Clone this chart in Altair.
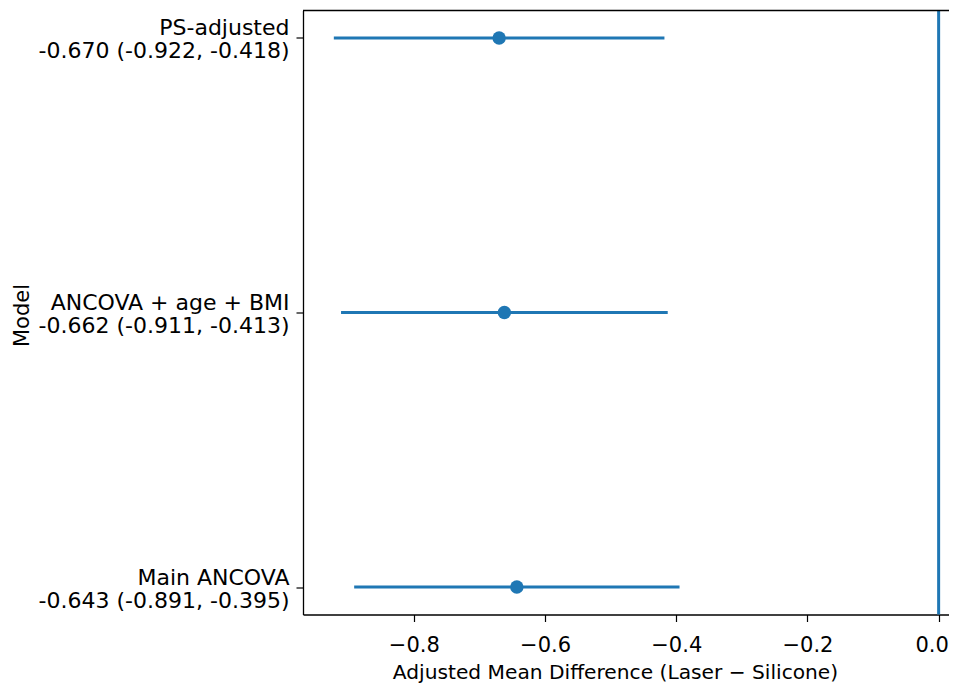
import altair as alt
import pandas as pd

models = ["Main ANCOVA", "ANCOVA + age + BMI", "PS-adjusted"]
positions = [0, 1, 2]
estimates = [-0.643, -0.662, -0.670]
lower = [-0.891, -0.911, -0.922]
upper = [-0.395, -0.413, -0.418]
x_ticks = [-0.8, -0.6, -0.4, -0.2, 0.0]

df = pd.DataFrame({"model": models, "pos": positions, "est": estimates,
                   "lo": lower, "hi": upper})

def fmt(v):
    return f"{v:.3f}"

parts = []
for p, m, e, l, h in zip(positions, models, estimates, lower, upper):
    line2 = f"{fmt(e)} ({fmt(l)}, {fmt(h)})"
    parts.append(f"datum.value == {p} ? ['{m}', '{line2}']")
label_expr = " : ".join(parts) + " : ''"

BLUE = "#1f77b4"
FONT = "DejaVu Sans"
W, H = 646, 604

x_scale = alt.Scale(domain=[-0.969, 0.0158], nice=False, zero=False)
y_scale = alt.Scale(domain=[-0.1, 2.1], nice=False, zero=False)

x_axis = alt.Axis(values=x_ticks, labelExpr="replace(format(datum.value, '.1f'), '-', '\u2212')",
                  title="Adjusted Mean Difference (Laser \u2212 Silicone)", grid=False,
                  tickSize=7, tickWidth=1.2, tickColor="black", domainColor="black",
                  domainWidth=1.3, labelPadding=13, labelBaseline="top",
                  labelOffset={"condition": {"test": "datum.value == 0", "value": -7}, "value": 0},
                  labelFont=FONT, labelFontSize=21, titleFont=FONT, titleFontSize=20.2,
                  labelColor="black", titleColor="black", titleFontWeight="normal",
                  titleX=312, titleY=63.5, titleBaseline="alphabetic", titleAlign="center",
                  labelFlush=False, labelLimit=0)
y_axis = alt.Axis(values=positions, labelExpr=label_expr, title="Model", grid=False,
                  tickSize=7, tickWidth=1.2, tickColor="black", domainColor="black",
                  domainWidth=1.3, labelPadding=7,
                  labelFont=FONT, labelFontSize=22, titleFont=FONT, titleFontSize=21,
                  labelColor="black", titleColor="black", titleFontWeight="normal",
                  labelLineHeight=23, labelBaseline="alphabetic", labelAlign="right",
                  labelOffset=-3, labelLimit=0, labelFlush=False,
                  titleX=-275, titleY=304.5, titleAngle=270, titleBaseline="alphabetic",
                  titleAlign="center")

base = alt.Chart(df)

bars = base.mark_rule(color=BLUE, strokeWidth=3).encode(
    x=alt.X("lo:Q", scale=x_scale, axis=x_axis),
    x2="hi:Q",
    y=alt.Y("pos:Q", scale=y_scale, axis=y_axis),
)
points = base.mark_circle(color=BLUE, size=180, opacity=1).encode(
    x=alt.X("est:Q", scale=x_scale),
    y=alt.Y("pos:Q", scale=y_scale),
)
zero = alt.Chart(pd.DataFrame({"z": [0.0]})).mark_rule(color=BLUE, strokeWidth=3).encode(
    x=alt.X("z:Q", scale=x_scale),
)
top = alt.Chart(pd.DataFrame({"a": [0]})).mark_rule(color="black", strokeWidth=1.3).encode(
    x=alt.value(0), x2=alt.value(W), y=alt.value(0)
)

chart = alt.layer(bars, zero, points, top).properties(
    width=W, height=H,
    autosize=alt.AutoSizeParams(type="none"),
    padding={"left": 295, "top": 2.5, "right": 0, "bottom": 70},
    background="white",
).configure_view(stroke=None)

chart.save("out.html", embed_options={"renderer": "svg", "actions": False})
